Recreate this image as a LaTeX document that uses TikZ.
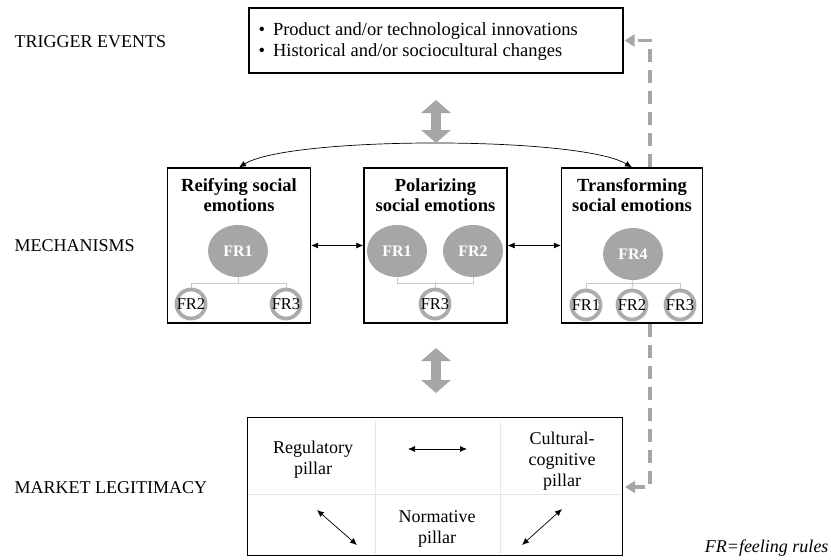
\documentclass[tikz,border=0pt]{standalone}
\usepackage{fontspec}
\setmainfont{Liberation Serif}
\usetikzlibrary{arrows.meta,shapes.geometric}
\definecolor{frgray}{HTML}{A6A6A6}
\definecolor{ringgray}{HTML}{ABABAB}
\definecolor{treegray}{HTML}{C8C8C8}
\definecolor{cellgray}{HTML}{E6E6E6}

\begin{document}
\begin{tikzpicture}[x=1pt, y=-1pt,
    box/.style={draw=black, line width=1.3pt, fill=white, inner sep=0pt},
    side/.style={anchor=west, font=\fontsize{18}{20}\selectfont},
    title/.style={align=center, font=\fontsize{18.5}{20.5}\selectfont\bfseries},
    frbig/.style={ellipse, fill=frgray, minimum width=60pt, minimum height=52pt, inner sep=0pt, text=white, font=\fontsize{16}{18}\selectfont\bfseries},
    frsmall/.style={circle, draw=ringgray, line width=3.8pt, fill=white, minimum size=29pt, inner sep=-3pt, font=\fontsize{16.5}{18}\selectfont},
    tree/.style={draw=treegray, line width=0.9pt},
    biarrow/.style={{Latex[length=7pt,width=6pt]}-{Latex[length=7pt,width=6pt]}, line width=0.7pt},
    fatarrow/.style={draw=frgray, line width=10pt, {Triangle[length=13pt,width=29pt]}-{Triangle[length=13pt,width=29pt]}},
    feedback/.style={draw=frgray, line width=3.5pt, dash pattern=on 13pt off 8pt, -{Triangle[length=10pt,width=12pt]}},
    pillar/.style={align=center, font=\fontsize{18}{21}\selectfont}]
    \useasboundingbox (0,0) rectangle (831,560);

    % left column
    \node[side] (trig) at (11,42) {TRIGGER EVENTS};
    \node[side] (mech) at (11,246) {MECHANISMS};
    \node[side] (mkt) at (11,488) {MARKET LEGITIMACY};

    % trigger events
    \node[box, minimum width=374pt, minimum height=65pt] (events) at (436,40.5) {};
    \node[anchor=west, align=left, font=\fontsize{18.5}{21}\selectfont] (bullets) at (255,42)
        {\textbullet\hspace{8pt}Product and/or technological innovations\\
         \textbullet\hspace{8pt}Historical and/or sociocultural changes};

    % mechanisms
    \node[box, minimum width=143pt, minimum height=155pt] (reify) at (239,245.5) {};
    \node[box, minimum width=143pt, minimum height=155pt] (polar) at (435.5,245.5) {};
    \node[box, minimum width=141pt, minimum height=155pt] (transf) at (632,245.5) {};
    \node[title] (reifyT) at (239,195) {Reifying social\\emotions};
    \node[title] (polarT) at (435.5,195) {Polarizing\\social emotions};
    \node[title] (transfT) at (632,195) {Transforming\\social emotions};

    \node[frbig] (r1) at (238,251) {FR1};
    \node[frsmall] (r2) at (191,304) {FR2};
    \node[frsmall] (r3) at (286,304) {FR3};
    \draw[tree] (r1.south) -- ++(0,6) -| (r2.north);
    \draw[tree] (r1.south) ++(0,6) -| (r3.north);

    \node[frbig] (p1) at (397,251) {FR1};
    \node[frbig] (p2) at (473,251) {FR2};
    \node[frsmall] (p3) at (435,304) {FR3};
    \draw[tree] (p1.south) -- ++(0,6) -| (p2.south);
    \draw[tree] (p3.north) -- ++(0,-6);

    \node[frbig] (t4) at (633,254) {FR4};
    \node[frsmall] (t1) at (586,305) {FR1};
    \node[frsmall] (t2) at (632,305) {FR2};
    \node[frsmall] (t3) at (680,305) {FR3};
    \draw[tree] (t4.south) -- (t2.north);
    \draw[tree] (t1.north) |- (t3.north |- 0,283) -- (t3.north);

    \draw[biarrow] (reify) -- (polar);
    \draw[biarrow] (polar) -- (transf);
    \draw[biarrow] (reify.north) .. controls (290,136) and (580,136) .. (transf.north);

    % fat arrows
    \coordinate (up1) at (436,100);
    \coordinate (dn1) at (436,143);
    \draw[fatarrow] (up1) -- (dn1);
    \coordinate (up2) at (436,348);
    \coordinate (dn2) at (436,393);
    \draw[fatarrow] (up2) -- (dn2);

    % market legitimacy
    \node[box, minimum width=375pt, minimum height=138pt] (legit) at (435,486.5) {};
    \draw[cellgray, line width=0.8pt] (375,421) -- (375,554) (500,421) -- (500,554) (249,494) -- (621,494);
    \node[pillar] (reg) at (313,460) {Regulatory\\pillar};
    \node[pillar] (cult) at (562,461) {Cultural-\\cognitive\\pillar};
    \node[pillar] (norm) at (437,529) {Normative\\pillar};
    \coordinate (h1) at (408,449);
    \coordinate (h2) at (467,449);
    \coordinate (d1) at (317,510);
    \coordinate (d2) at (357,545);
    \coordinate (d3) at (522,545);
    \coordinate (d4) at (562,509);
    \draw[biarrow] (h1) -- (h2);
    \draw[biarrow] (d1) -- (d2);
    \draw[biarrow] (d3) -- (d4);

    % feedback
    \coordinate (fbT) at (650,41);
    \coordinate (fbB) at (650,487);
    \draw[feedback, shorten >=1pt] (transf.north -| fbT) -- ++(0,-2) |- (events.east);
    \draw[feedback, shorten >=2pt] (transf.south -| fbB) -- ++(0,3) |- (legit.east |- fbB);

    \node[anchor=east, font=\fontsize{18}{20}\selectfont\itshape] (note) at (832,548) {FR=feeling rules};
\end{tikzpicture}
\end{document}
